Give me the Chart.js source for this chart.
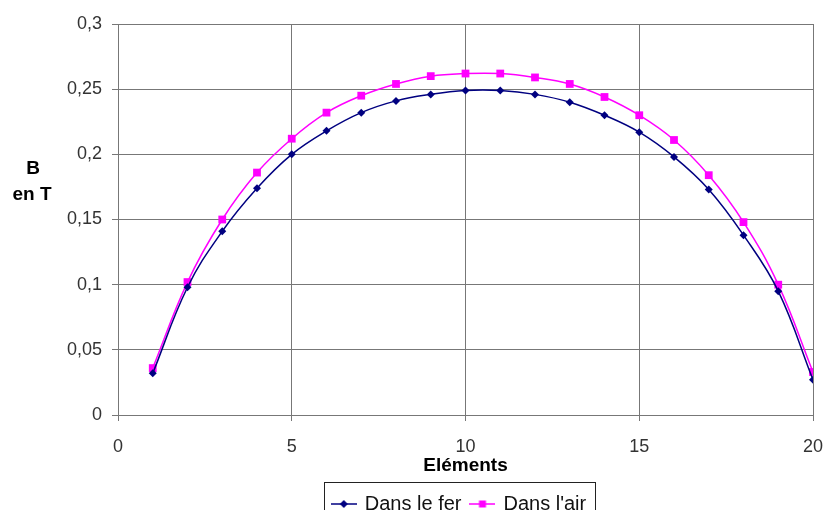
<!DOCTYPE html>
<html>
<head>
<meta charset="utf-8">
<script src="https://cdn.jsdelivr.net/npm/chart.js@4/dist/chart.umd.min.js"></script>
<style>
  html, body { margin: 0; padding: 0; background: #fff; overflow: hidden; height: 510px; }
  #chart { display: block; }
</style>
</head>
<body>
<canvas id="chart" width="823" height="524"></canvas>
<script>
const elements = [1, 2, 3, 4, 5, 6, 7, 8, 9, 10, 11, 12, 13, 14, 15, 16, 17, 18, 19, 20];
const dansLeFer = [0.032, 0.098, 0.141, 0.174, 0.200, 0.218, 0.232, 0.241, 0.246, 0.249,
                   0.249, 0.246, 0.240, 0.230, 0.217, 0.198, 0.173, 0.138, 0.095, 0.027];
const dansLAir = [0.036, 0.102, 0.150, 0.186, 0.212, 0.232, 0.245, 0.254, 0.260, 0.262,
                  0.262, 0.259, 0.254, 0.244, 0.230, 0.211, 0.184, 0.148, 0.100, 0.033];

const FONT = "'Liberation Sans', Arial, sans-serif";
const FER = "#000080";
const AIR = "#ff00ff";

function toPoints(values) {
  return elements.map((x, i) => ({ x: x, y: values[i] }));
}

function frNumber(v) {
  return String(Math.round(v * 100) / 100).replace(".", ",");
}

// little "line + marker" icons for the legend, like the spreadsheet legend
function legendIcon(color, shape) {
  const c = document.createElement("canvas");
  c.width = 26;
  c.height = 12;
  const g = c.getContext("2d");
  g.strokeStyle = color;
  g.fillStyle = color;
  g.lineWidth = 1.5;
  g.beginPath();
  g.moveTo(0, 6);
  g.lineTo(26, 6);
  g.stroke();
  g.beginPath();
  if (shape == "diamond") {
    g.moveTo(13, 2);
    g.lineTo(17, 6);
    g.lineTo(13, 10);
    g.lineTo(9, 6);
  } else {
    g.rect(9.5, 2.5, 7, 7);
  }
  g.fill();
  return c;
}

const icons = [legendIcon(FER, "diamond"), legendIcon(AIR, "square")];

// y title written horizontally, plus the frame round the legend
const extras = {
  id: "extras",
  afterLayout(chart) {
    // the original legend sits a little left of the plot centre
    chart.legend.left -= 6;
    chart.legend.right -= 6;
  },
  afterDraw(chart) {
    const ctx = chart.ctx;
    ctx.save();
    ctx.fillStyle = "#000";
    ctx.font = "bold 19px " + FONT;
    ctx.textAlign = "center";
    ctx.textBaseline = "middle";
    ctx.fillText("B", 33, 169);
    ctx.fillText("en T", 32, 195);

    const boxes = chart.legend.legendHitBoxes;
    if (boxes && boxes.length) {
      const first = boxes[0];
      const last = boxes[boxes.length - 1];
      const l = Math.round(first.left) - 9 + 0.5;
      const r = Math.round(last.left + last.width) + 9 + 0.5;
      const t = Math.round(first.top) - 12 + 0.5;
      ctx.strokeStyle = "#222";
      ctx.lineWidth = 1;
      ctx.strokeRect(l, t, r - l, 60);
    }
    ctx.restore();
  },
};

new Chart(document.getElementById("chart"), {
  type: "line",
  data: {
    datasets: [
      {
        label: "Dans le fer",
        data: toPoints(dansLeFer),
        borderColor: FER,
        backgroundColor: FER,
        borderWidth: 1.5,
        pointStyle: "rectRot",
        pointRadius: 4,
        pointBorderWidth: 0,
        tension: 0.4,
      },
      {
        label: "Dans l'air",
        data: toPoints(dansLAir),
        borderColor: AIR,
        backgroundColor: AIR,
        borderWidth: 1.5,
        pointStyle: "rect",
        pointRadius: 5.5,
        pointBorderWidth: 0,
        tension: 0.4,
      },
    ],
  },
  options: {
    responsive: false,
    animation: false,
    layout: { padding: { top: 24, right: 10, left: 0, bottom: 0 } },
    plugins: {
      tooltip: { enabled: false },
      legend: {
        position: "bottom",
        fullSize: false,
        labels: {
          usePointStyle: true,
          pointStyleWidth: 22,
          boxHeight: 12,
          color: "#111",
          font: { family: FONT, size: 20 },
          padding: 10,
          generateLabels(chart) {
            return Chart.defaults.plugins.legend.labels.generateLabels(chart).map((item, i) => {
              item.pointStyle = icons[i];
              return item;
            });
          },
        },
      },
    },
    scales: {
      x: {
        type: "linear",
        min: 0,
        max: 20,
        afterFit(axis) {
          axis.height = 69;
          axis.paddingLeft = 0;
          axis.paddingRight = 0;
        },
        ticks: {
          stepSize: 5,
          color: "#333",
          font: { family: FONT, size: 18, lineHeight: 1 },
          padding: 17,
        },
        grid: { color: "#777", tickLength: 6 },
        border: { color: "#777" },
        title: {
          display: true,
          text: "Eléments",
          color: "#000",
          font: { family: FONT, size: 19, weight: "bold", lineHeight: 1 },
          padding: { top: 0, bottom: 9 },
        },
      },
      y: {
        min: 0,
        max: 0.3,
        afterFit(axis) { axis.width = 118; },
        ticks: {
          stepSize: 0.05,
          color: "#333",
          font: { family: FONT, size: 18 },
          padding: 10,
          callback: (v) => frNumber(v),
        },
        grid: { color: "#777", tickLength: 6 },
        border: { color: "#777" },
      },
    },
  },
  plugins: [extras],
});
</script>
</body>
</html>
